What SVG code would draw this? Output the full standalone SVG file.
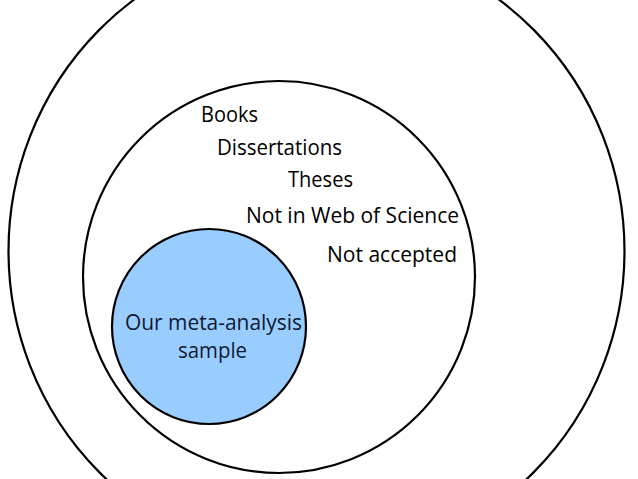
<svg xmlns="http://www.w3.org/2000/svg" width="638" height="479" viewBox="0 0 638 479">
<style>
.ring{fill:none;stroke:#000;stroke-width:2.2}
.t{font-family:"Open Sans","Liberation Sans",sans-serif;font-size:21.5px;fill:#000}
.b{font-family:"Open Sans","Liberation Sans",sans-serif;font-size:21.5px;fill:#0f1a33}
</style>
<rect width="638" height="479" fill="#fff"/>
<g id="outer">
<ellipse class="ring" cx="316.5" cy="251" rx="308" ry="312"/>
</g>
<g id="middle">
<ellipse class="ring" cx="279" cy="277" rx="196" ry="196"/>
<text class="t" x="201" y="122" textLength="57" lengthAdjust="spacingAndGlyphs">Books</text>
<text class="t" x="217" y="155" textLength="125" lengthAdjust="spacingAndGlyphs">Dissertations</text>
<text class="t" x="288" y="187" textLength="65" lengthAdjust="spacingAndGlyphs">Theses</text>
<text class="t" x="246" y="223" textLength="213" lengthAdjust="spacingAndGlyphs">Not in Web of Science</text>
<text class="t" x="327" y="262" textLength="130" lengthAdjust="spacingAndGlyphs">Not accepted</text>
</g>
<g id="sample">
<ellipse cx="209" cy="326.5" rx="97" ry="97.5" fill="#99ccff" stroke="#000" stroke-width="2.2"/>
<text class="b" x="125" y="330" textLength="177" lengthAdjust="spacingAndGlyphs">Our meta-analysis</text>
<text class="b" x="178" y="358" textLength="69" lengthAdjust="spacingAndGlyphs">sample</text>
</g>
</svg>
